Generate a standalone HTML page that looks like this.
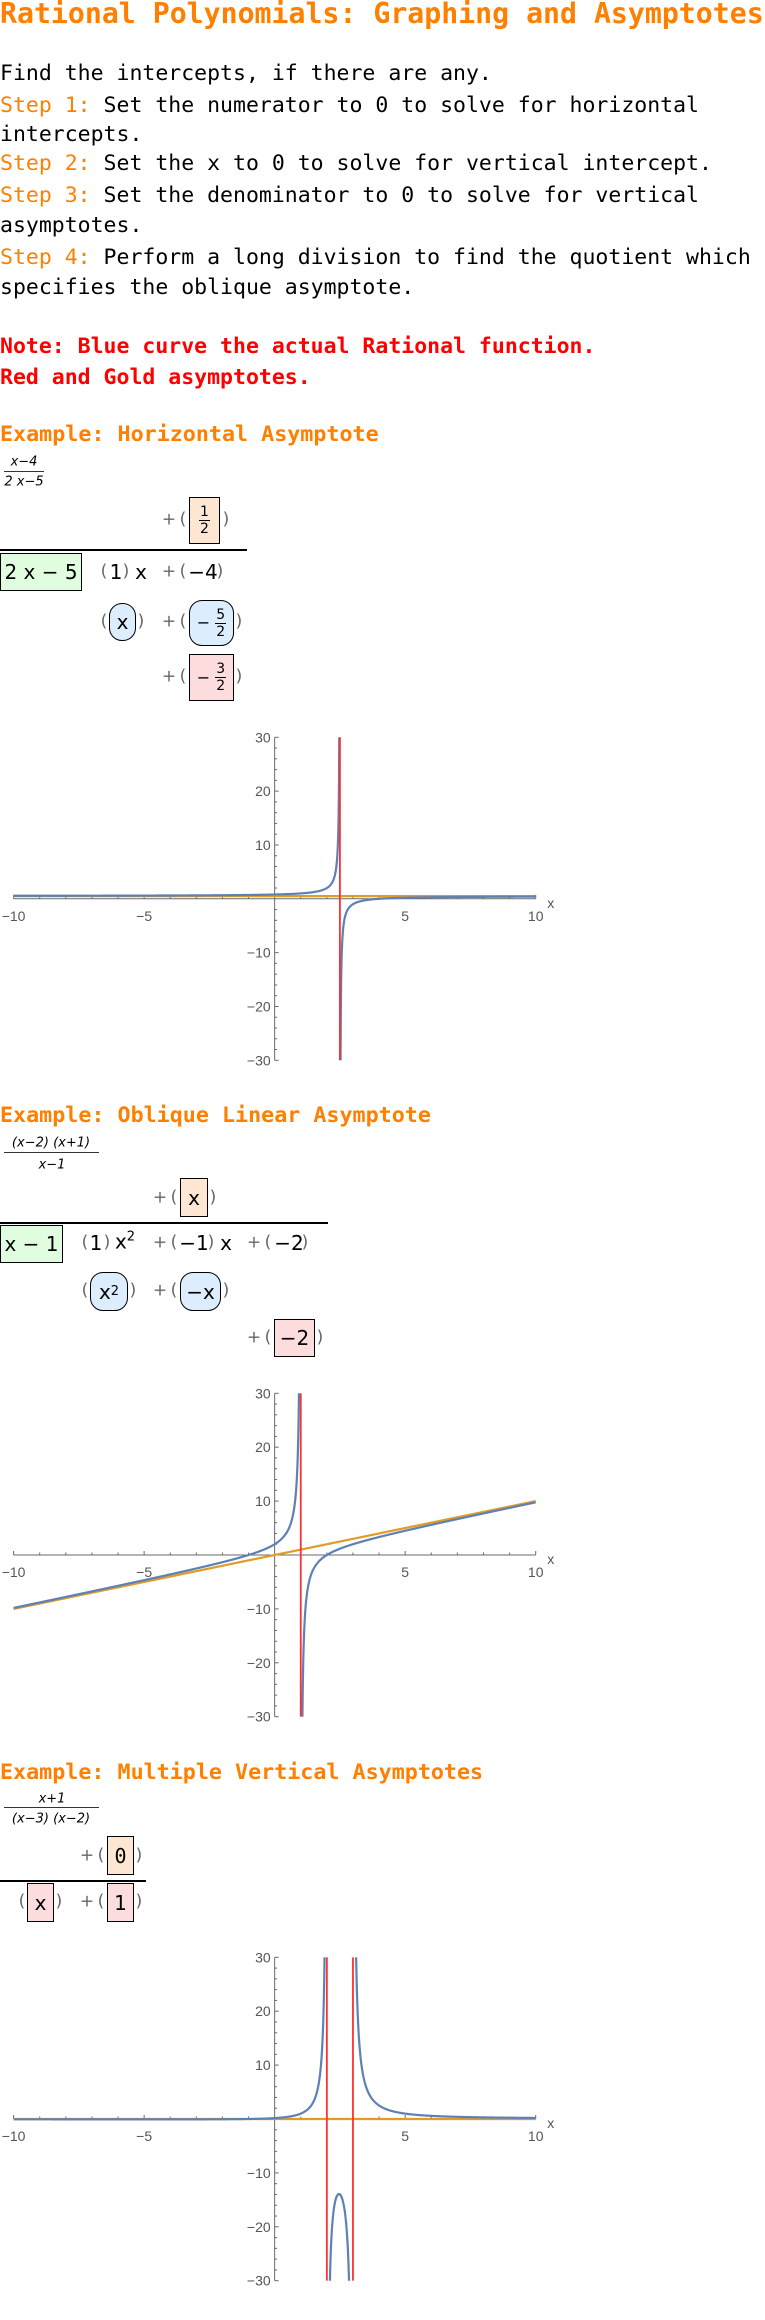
<!DOCTYPE html>
<html><head><meta charset="utf-8">
<style>
body{margin:0;background:#fff;width:765px;height:2320px;position:relative;overflow:hidden;font-family:"DejaVu Sans","Liberation Sans",sans-serif;}
.ln{position:absolute;left:0;white-space:nowrap;font-family:"DejaVu Sans Mono","Liberation Mono",monospace;font-size:21.5px;line-height:20px;color:#000;}
.or{color:#ff8000;}
.rd{color:#ff0000;font-weight:bold;}
.h{position:absolute;left:0;white-space:nowrap;font-family:"DejaVu Sans Mono","Liberation Mono",monospace;font-weight:bold;color:#ff8000;font-size:21.7px;line-height:22px;}
.t{position:absolute;transform:translate(-50%,-50%);white-space:nowrap;line-height:1;font-size:20px;color:#000;}
.p{position:absolute;transform:translate(-50%,-50%);white-space:nowrap;line-height:1;font-size:17px;color:#666;}
.s{font-size:13px;font-style:italic;}
.bx{position:absolute;box-sizing:border-box;border:1.3px solid #000;display:flex;align-items:center;justify-content:center;font-size:20px;line-height:1;}
.rnd{border-radius:13px;}
.pe{background:#fde7d2;}.gr{background:#e1fde0;}.bl{background:#dcedfd;}.pk{background:#fcdcdc;}
.hl{position:absolute;height:1.5px;background:#000;}
.fl{position:absolute;height:1px;background:#333;}
.fr{display:inline-flex;flex-direction:column;align-items:center;font-size:14px;line-height:16px;}
.fr i{font-style:normal;}
.fr b{font-weight:normal;border-top:1px solid #000;padding:0 1px;}
svg{position:absolute;left:0;}
</style></head><body>
<div class="ln" style="top:-1px;font-size:28.2px;line-height:30px;font-weight:bold;color:#ff8000;">Rational Polynomials: Graphing and Asymptotes</div>
<div class="ln" style="top:64px">Find the intercepts, if there are any.</div>
<div class="ln" style="top:96px"><span class="or">Step 1:</span> Set the numerator to 0 to solve for horizontal</div>
<div class="ln" style="top:125px">intercepts.</div>
<div class="ln" style="top:154px"><span class="or">Step 2:</span> Set the x to 0 to solve for vertical intercept.</div>
<div class="ln" style="top:186px"><span class="or">Step 3:</span> Set the denominator to 0 to solve for vertical</div>
<div class="ln" style="top:216px">asymptotes.</div>
<div class="ln" style="top:248px"><span class="or">Step 4:</span> Perform a long division to find the quotient which</div>
<div class="ln" style="top:278px">specifies the oblique asymptote.</div>
<div class="ln rd" style="top:337px">Note: Blue curve the actual Rational function.</div>
<div class="ln rd" style="top:368px">Red and Gold asymptotes.</div>

<!-- Example 1 -->
<div class="h" style="top:424px">Example: Horizontal Asymptote</div>
<div class="t s" style="left:24px;top:462px">x−4</div>
<div class="fl" style="left:4px;width:40px;top:471px"></div>
<div class="t s" style="left:24px;top:482px">2 x−5</div>
<div class="p" style="left:169px;top:520px">+</div>
<div class="p" style="left:183px;top:520px">(</div>
<div class="bx pe" style="left:189px;top:497px;width:31px;height:47px"><span class="fr"><i>1</i><b>2</b></span></div>
<div class="p" style="left:226px;top:520px">)</div>
<div class="hl" style="left:0;width:247px;top:549px"></div>
<div class="bx gr" style="left:0;top:553px;width:82px;height:38px">2 x − 5</div>
<div class="p" style="left:104px;top:572px">(</div>
<div class="t" style="left:116px;top:572px">1</div>
<div class="p" style="left:126px;top:572px">)</div>
<div class="t" style="left:141px;top:572px">x</div>
<div class="p" style="left:169px;top:572px">+</div>
<div class="p" style="left:183px;top:572px">(</div>
<div class="t" style="left:203px;top:572px">−4</div>
<div class="p" style="left:220px;top:572px">)</div>
<div class="p" style="left:104px;top:622px">(</div>
<div class="bx bl rnd" style="left:109px;top:603px;width:27px;height:38px">x</div>
<div class="p" style="left:141px;top:622px">)</div>
<div class="p" style="left:169px;top:622px">+</div>
<div class="p" style="left:183px;top:622px">(</div>
<div class="bx bl rnd" style="left:189px;top:600px;width:45px;height:46px"><span style="font-size:16px">−&nbsp;</span><span class="fr"><i>5</i><b>2</b></span></div>
<div class="p" style="left:239px;top:622px">)</div>
<div class="p" style="left:169px;top:677px">+</div>
<div class="p" style="left:183px;top:677px">(</div>
<div class="bx pk" style="left:189px;top:654px;width:45px;height:47px"><span style="font-size:16px">−&nbsp;</span><span class="fr"><i>3</i><b>2</b></span></div>
<div class="p" style="left:239px;top:677px">)</div>
<svg id="plot1" width="765" height="360" style="top:720px"></svg>

<!-- Example 2 -->
<div class="h" style="top:1105px">Example: Oblique Linear Asymptote</div>
<div class="t s" style="left:51px;top:1143px">(x−2) (x+1)</div>
<div class="fl" style="left:4px;width:95px;top:1152px"></div>
<div class="t s" style="left:52px;top:1165px">x−1</div>
<div class="p" style="left:160px;top:1198px">+</div>
<div class="p" style="left:174px;top:1198px">(</div>
<div class="bx pe" style="left:180px;top:1178px;width:28px;height:39px">x</div>
<div class="p" style="left:213px;top:1198px">)</div>
<div class="hl" style="left:0;width:328px;top:1222px"></div>
<div class="bx gr" style="left:0;top:1225px;width:63px;height:38px">x − 1</div>
<div class="p" style="left:85px;top:1243px">(</div>
<div class="t" style="left:96px;top:1243px">1</div>
<div class="p" style="left:107px;top:1243px">)</div>
<div class="t" style="left:125px;top:1241px">x<sup style="font-size:13px">2</sup></div>
<div class="p" style="left:160px;top:1243px">+</div>
<div class="p" style="left:174px;top:1243px">(</div>
<div class="t" style="left:194px;top:1243px">−1</div>
<div class="p" style="left:211px;top:1243px">)</div>
<div class="t" style="left:226px;top:1243px">x</div>
<div class="p" style="left:254px;top:1243px">+</div>
<div class="p" style="left:268px;top:1243px">(</div>
<div class="t" style="left:289px;top:1243px">−2</div>
<div class="p" style="left:305px;top:1243px">)</div>
<div class="p" style="left:85px;top:1291px">(</div>
<div class="bx bl rnd" style="left:90px;top:1272px;width:38px;height:39px">x<sup style="font-size:13px">2</sup></div>
<div class="p" style="left:133px;top:1291px">)</div>
<div class="p" style="left:160px;top:1291px">+</div>
<div class="p" style="left:174px;top:1291px">(</div>
<div class="bx bl rnd" style="left:180px;top:1272px;width:41px;height:39px">−x</div>
<div class="p" style="left:226px;top:1291px">)</div>
<div class="p" style="left:254px;top:1338px">+</div>
<div class="p" style="left:268px;top:1338px">(</div>
<div class="bx pk" style="left:274px;top:1319px;width:41px;height:38px">−2</div>
<div class="p" style="left:320px;top:1338px">)</div>
<svg id="plot2" width="765" height="360" style="top:1370px"></svg>

<!-- Example 3 -->
<div class="h" style="top:1762px">Example: Multiple Vertical Asymptotes</div>
<div class="t s" style="left:52px;top:1799px">x+1</div>
<div class="fl" style="left:4px;width:95px;top:1807px"></div>
<div class="t s" style="left:51px;top:1819px">(x−3) (x−2)</div>
<div class="p" style="left:87px;top:1856px">+</div>
<div class="p" style="left:101px;top:1856px">(</div>
<div class="bx pe" style="left:107px;top:1836px;width:27px;height:39px;font-family:'DejaVu Sans Mono',monospace">0</div>
<div class="p" style="left:139px;top:1856px">)</div>
<div class="hl" style="left:0;width:146px;top:1880px"></div>
<div class="p" style="left:22px;top:1902px">(</div>
<div class="bx pk" style="left:27px;top:1883px;width:27px;height:39px">x</div>
<div class="p" style="left:59px;top:1902px">)</div>
<div class="p" style="left:87px;top:1902px">+</div>
<div class="p" style="left:101px;top:1902px">(</div>
<div class="bx pk" style="left:107px;top:1883px;width:27px;height:39px">1</div>
<div class="p" style="left:139px;top:1902px">)</div>
<svg id="plot3" width="765" height="370" style="top:1950px"></svg>

<script>
const xTickLabels = [-10, -5, 5, 10];
const yTickLabels = [-30, -20, -10, 10, 20, 30];
const xDomain = [-10, 10];
const yDomain = [-30, 30];
// plot 1: (x-4)/(2x-5)
const p1Numerator = [1, -4];
const p1Denominator = [2, -5];
const p1Vertical = [2.5];
const p1Oblique = [0, 0.5];
// plot 2: (x-2)(x+1)/(x-1)
const p2Numerator = [1, -1, -2];
const p2Denominator = [1, -1];
const p2Vertical = [1];
const p2Oblique = [1, 0];
// plot 3: (x+1)/((x-3)(x-2))
const p3Numerator = [1, 1];
const p3Denominator = [1, -5, 6];
const p3Vertical = [2, 3];
const p3Oblique = [0, 0];

const NS = 'http://www.w3.org/2000/svg';
function poly(c, x){ let v=0; for(const k of c) v=v*x+k; return v; }
function mk(tag, attrs){ const e=document.createElementNS(NS,tag); for(const k in attrs) e.setAttribute(k, attrs[k]); return e; }

function drawPlot(svgId, top30, bot30, num, den, vas, obl){
  const svg=document.getElementById(svgId);
  const xL=13.6, xR=535.7;
  const X=v=>xL+(v-xDomain[0])*(xR-xL)/(xDomain[1]-xDomain[0]);
  const Y=v=>bot30-(v-yDomain[0])*(bot30-top30)/(yDomain[1]-yDomain[0]);
  const clipId=svgId+'-clip';
  const defs=mk('defs',{});
  const cp=mk('clipPath',{id:clipId});
  cp.appendChild(mk('rect',{x:X(xDomain[0])-2,y:Y(yDomain[1]),width:X(xDomain[1])-X(xDomain[0])+4,height:Y(yDomain[0])-Y(yDomain[1])}));
  defs.appendChild(cp); svg.appendChild(defs);
  const ax='#6a6a6a';
  const xa=mk('line',{x1:X(xDomain[0]),x2:X(xDomain[1]),y1:Y(0),y2:Y(0),stroke:ax,'stroke-width':1});
    svg.appendChild(xa);
  const ya=mk('line',{x1:X(0),x2:X(0),y1:Y(yDomain[1]),y2:Y(yDomain[0]),stroke:ax,'stroke-width':1});
    svg.appendChild(ya);
  for(let v=xDomain[0]; v<=xDomain[1]; v++){
    if(v===0) continue;
    const major=(v%5===0);
    svg.appendChild(mk('line',{x1:X(v),x2:X(v),y1:Y(0),y2:Y(0)-(major?4:2.5),stroke:ax,'stroke-width':1}));
  }
  for(let v=yDomain[0]; v<=yDomain[1]; v+=2){
    if(v===0) continue;
    const major=(v%10===0);
    svg.appendChild(mk('line',{x1:X(0),x2:X(0)+(major?4:2.5),y1:Y(v),y2:Y(v),stroke:ax,'stroke-width':1}));
  }
  for(const v of xTickLabels){
    const t=mk('text',{x:X(v),y:Y(0)+22,'text-anchor':'middle','font-size':14,fill:'#555','font-family':'Liberation Sans, sans-serif'});
    t.textContent=(v<0?'−':'')+Math.abs(v);
     
    svg.appendChild(t);
  }
  for(const v of yTickLabels){
    const t=mk('text',{x:X(0)-4,y:Y(v)+5,'text-anchor':'end','font-size':14,fill:'#555','font-family':'Liberation Sans, sans-serif'});
    t.textContent=(v<0?'−':'')+Math.abs(v);
     
    svg.appendChild(t);
  }
  const xl=mk('text',{x:X(xDomain[1])+15,y:Y(0)+9,'text-anchor':'middle','font-size':14,fill:'#555','font-family':'Liberation Sans, sans-serif'});
  xl.textContent='x';
   
  svg.appendChild(xl);
  const g=mk('g',{'clip-path':'url(#'+clipId+')'}); svg.appendChild(g);
  const ob=mk('line',{x1:X(xDomain[0]),y1:Y(obl[0]*xDomain[0]+obl[1]),x2:X(xDomain[1]),y2:Y(obl[0]*xDomain[1]+obl[1]),stroke:'#e19c24','stroke-width':2.2});
   
  g.appendChild(ob);
  const bounds=[xDomain[0], ...vas.slice().sort((a,b)=>a-b), xDomain[1]];
  for(let i=0;i<bounds.length-1;i++){
    const a=bounds[i]+(i>0?0.0005:0), b=bounds[i+1]-(i<bounds.length-2?0.0005:0);
    let d=''; const N=1500;
    for(let k=0;k<=N;k++){
      const x=a+(b-a)*k/N;
      let y=poly(num,x)/poly(den,x);
      y=Math.max(-200,Math.min(200,y));
      d+=(k?'L':'M')+X(x).toFixed(2)+' '+Y(y).toFixed(2);
    }
    const p=mk('path',{d:d,fill:'none',stroke:'#5e81b5','stroke-width':2.2});
     
    g.appendChild(p);
  }
  for(const v of vas){
    const l=mk('line',{x1:X(v),x2:X(v),y1:Y(yDomain[1]),y2:Y(yDomain[0]),stroke:'#ff3030','stroke-width':1.8});
     
    g.appendChild(l);
  }
}
drawPlot('plot1', 17.3, 340.3, p1Numerator, p1Denominator, p1Vertical, p1Oblique);
drawPlot('plot2', 23.3, 346.7, p2Numerator, p2Denominator, p2Vertical, p2Oblique);
drawPlot('plot3', 7.3, 330.7, p3Numerator, p3Denominator, p3Vertical, p3Oblique);
</script>
</body></html>
